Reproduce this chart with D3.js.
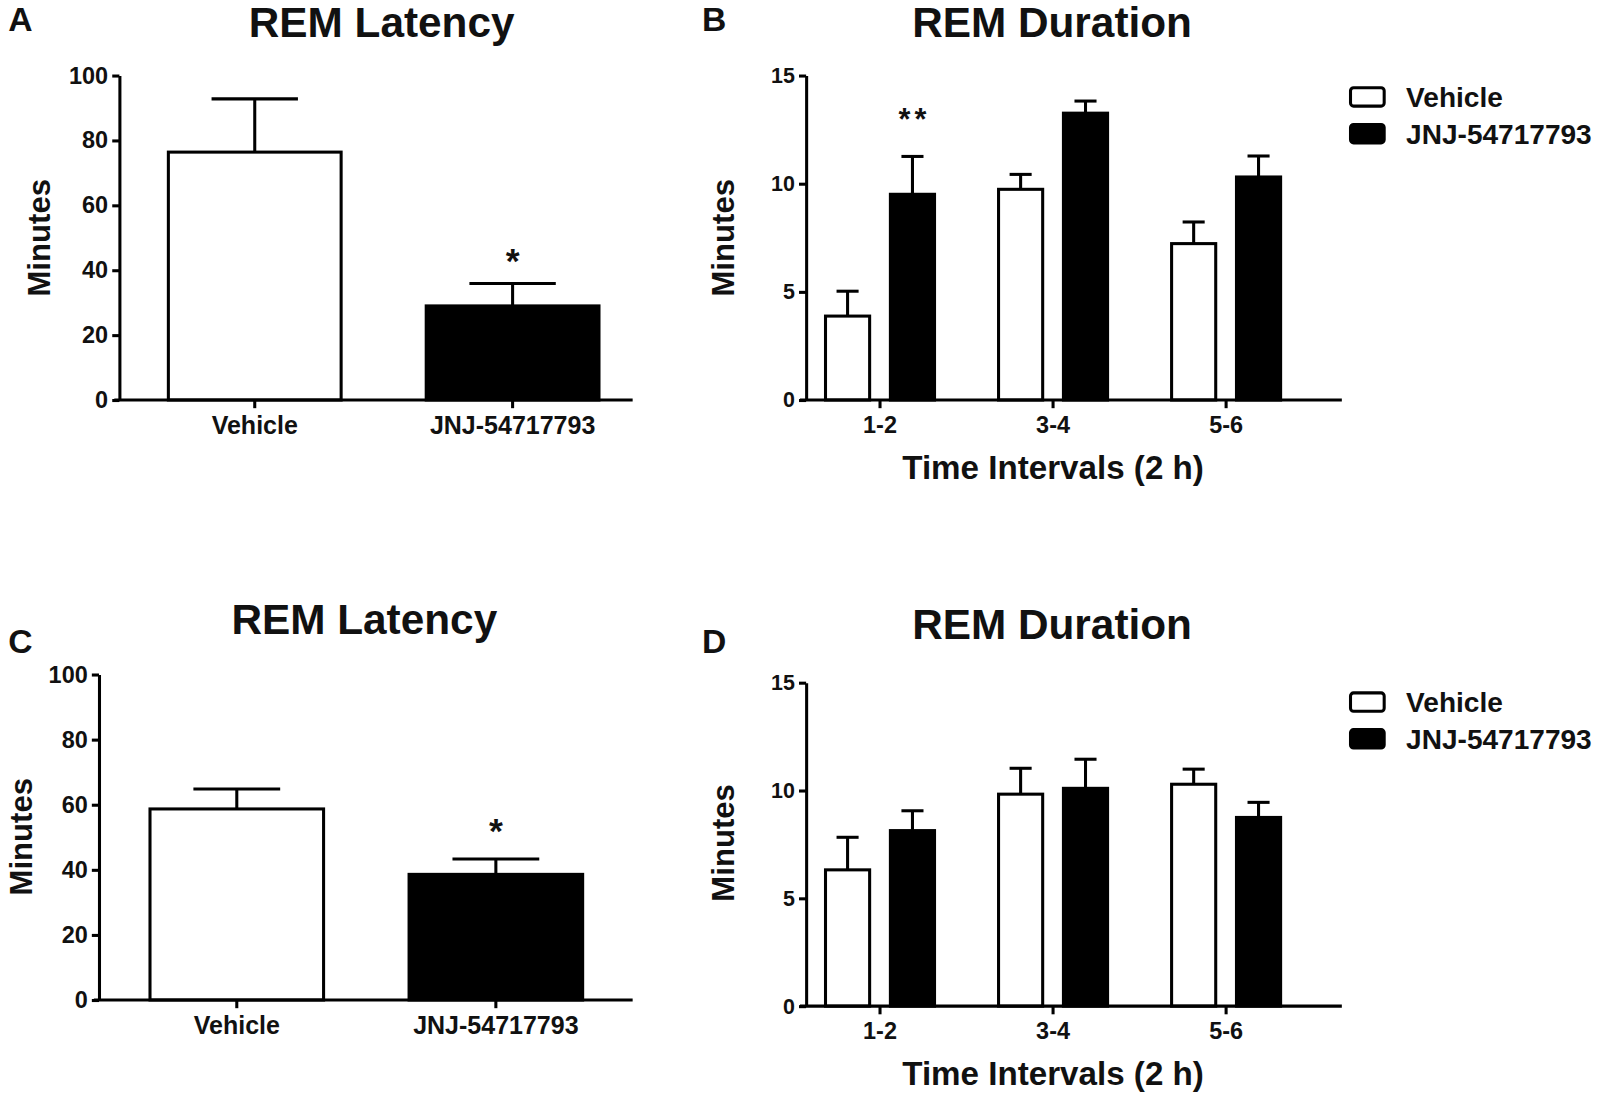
<!DOCTYPE html>
<html>
<head>
<meta charset="utf-8">
<script src="https://cdn.jsdelivr.net/npm/d3@7"></script>
<style>
  body { margin: 0; background: #fff; }
  svg { display: block; }
  text { font-family: "Liberation Sans", Arial, sans-serif; font-weight: bold; fill: #111; }
</style>
</head>
<body>
<script>
// ---------------- data ----------------
const groups = ['Vehicle', 'JNJ-54717793'];
const intervals = ['1-2', '3-4', '5-6'];

// REM latency (minutes), mean and SEM
const latencyA = [76.4, 29.0];
const latencyAErr = [16.4, 6.9];
const latencyC = [58.7, 38.6];
const latencyCErr = [6.1, 4.7];

// REM duration (minutes) per 2 h interval
const durationBVehicle = [3.88, 9.74, 7.23];
const durationBVehicleErr = [1.15, 0.69, 1.0];
const durationBJnj = [9.51, 13.26, 10.31];
const durationBJnjErr = [1.75, 0.56, 0.97];

const durationDVehicle = [6.32, 9.83, 10.29];
const durationDVehicleErr = [1.51, 1.2, 0.7];
const durationDJnj = [8.14, 10.1, 8.75];
const durationDJnjErr = [0.92, 1.35, 0.7];

const latencyTicks = [0, 20, 40, 60, 80, 100];
const durationTicks = [0, 5, 10, 15];

const fills = { Vehicle: '#fff', 'JNJ-54717793': '#000' };

// ---------------- svg ----------------
// layout numbers below are in a 1568-wide frame, scaled up to the 1600 window
const svg = d3.select('body').append('svg')
	.attr('width', 1600).attr('height', 1098)
	.attr('viewBox', [0, 0, 1568, 1076]);
svg.append('rect').attr('width', 1568).attr('height', 1076).attr('fill', '#fff');

function styleText(sel, size) {
	sel.attr('font-size', size).attr('fill', '#111')
		.attr('font-family', '"Liberation Sans", Arial, sans-serif').attr('font-weight', 'bold');
}

function yAxis(g, y, x, ticks, fontSize) {
	const ax = g.append('g')
		.attr('transform', `translate(${x},0)`)
		.call(d3.axisLeft(y).tickValues(ticks).tickSize(7).tickSizeOuter(0).tickPadding(4));
	ax.select('.domain').attr('stroke', '#000').attr('stroke-width', 3);
	ax.selectAll('.tick line').attr('stroke', '#000').attr('stroke-width', 3);
	styleText(ax.selectAll('.tick text'), fontSize);
	return ax;
}

function xAxis(g, x, y0, left, right, fontSize) {
	g.append('line')
		.attr('x1', left).attr('x2', right)
		.attr('y1', y0).attr('y2', y0)
		.attr('stroke', '#000').attr('stroke-width', 3);
	const ax = g.append('g')
		.attr('transform', `translate(0,${y0})`)
		.call(d3.axisBottom(x).tickSize(8).tickSizeOuter(0).tickPadding(8));
	ax.select('.domain').remove();
	ax.selectAll('.tick line').attr('stroke', '#000').attr('stroke-width', 3);
	styleText(ax.selectAll('.tick text'), fontSize);
}

function labels(g, p) {
	g.append('text').attr('x', p.letter[0]).attr('y', p.letter[1]).attr('font-size', 33).text(p.letterText);
	g.append('text').attr('x', p.title[0]).attr('y', p.title[1]).attr('font-size', 41.5)
		.attr('text-anchor', 'middle').text(p.titleText);
	g.append('text')
		.attr('transform', `translate(${p.ylabel[0]},${p.ylabel[1]}) rotate(-90)`)
		.attr('text-anchor', 'middle').attr('dy', '0.36em').attr('font-size', 30.5).text('Minutes');
}

function errorBars(sel, cx, capW, yTop, yBase) {
	sel.append('line')
		.attr('x1', cx).attr('x2', cx)
		.attr('y1', yBase).attr('y2', yTop)
		.attr('stroke', '#000').attr('stroke-width', 3);
	sel.append('line')
		.attr('x1', (d) => cx(d) - capW(d) / 2).attr('x2', (d) => cx(d) + capW(d) / 2)
		.attr('y1', yTop).attr('y2', yTop)
		.attr('stroke', '#000').attr('stroke-width', 3);
}

// ---------------- latency panels (A, C) ----------------
function drawLatency(p) {
	const g = svg.append('g');
	const y = d3.scaleLinear().domain([0, 100]).range([p.yBottom, p.yTop]);
	const x = d3.scaleBand().domain(groups).range(p.barRange).paddingInner(0.33).paddingOuter(0);
	const data = groups.map((k, i) => ({ key: k, v: p.mean[i], e: p.err[i] }));

	const bar = g.selectAll('g.bar').data(data).join('g').attr('class', 'bar');
	errorBars(bar,
		(d) => x(d.key) + x.bandwidth() / 2,
		() => x.bandwidth() / 2,
		(d) => y(d.v + d.e),
		(d) => y(d.v));
	bar.append('rect')
		.attr('x', (d) => x(d.key))
		.attr('y', (d) => y(d.v))
		.attr('width', x.bandwidth())
		.attr('height', (d) => y(0) - y(d.v))
		.attr('fill', (d) => fills[d.key])
		.attr('stroke', '#000').attr('stroke-width', 3);

	g.append('text')
		.attr('x', x(groups[1]) + x.bandwidth() / 2)
		.attr('y', y(data[1].v + data[1].e) - p.starGap)
		.attr('text-anchor', 'middle').attr('font-size', 35).text('*');

	xAxis(g, x, y(0), p.axisX - 5, p.axisEnd, 24.5);
	yAxis(g, y, p.axisX, latencyTicks, 23);
	labels(g, p);
}

// ---------------- duration panels (B, D) ----------------
function drawDuration(p) {
	const g = svg.append('g');
	const y = d3.scaleLinear().domain([0, 15]).range([p.yBottom, p.yTop]);
	const x0 = d3.scaleBand().domain(intervals).range(p.barRange).paddingInner(0.37).paddingOuter(0);
	const x1 = d3.scaleBand().domain(groups).range([0, x0.bandwidth()]).paddingInner(0.32).paddingOuter(0);

	const data = [];
	intervals.forEach((t, i) => {
		data.push({ t, key: groups[0], v: p.vehicle[i], e: p.vehicleErr[i] });
		data.push({ t, key: groups[1], v: p.jnj[i], e: p.jnjErr[i] });
	});

	const bx = (d) => x0(d.t) + x1(d.key);
	const bar = g.selectAll('g.bar').data(data).join('g').attr('class', 'bar');
	errorBars(bar,
		(d) => bx(d) + x1.bandwidth() / 2,
		() => x1.bandwidth() / 2,
		(d) => y(d.v + d.e),
		(d) => y(d.v));
	bar.append('rect')
		.attr('x', bx)
		.attr('y', (d) => y(d.v))
		.attr('width', x1.bandwidth())
		.attr('height', (d) => y(0) - y(d.v))
		.attr('fill', (d) => fills[d.key])
		.attr('stroke', '#000').attr('stroke-width', 3);

	if (p.star) {
		const d = data.find((r) => r.t === p.star && r.key === groups[1]);
		g.append('text')
			.attr('x', bx(d) + x1.bandwidth() / 2 + 2)
			.attr('y', y(d.v + d.e) - p.starGap)
			.attr('text-anchor', 'middle').attr('font-size', 30).attr('letter-spacing', 4).text('**');
	}

	xAxis(g, x0, y(0), p.axisX - 6, p.axisEnd, 23);
	yAxis(g, y, p.axisX, durationTicks, 21);
	labels(g, p);

	g.append('text')
		.attr('x', p.xtitle[0]).attr('y', p.xtitle[1])
		.attr('text-anchor', 'middle').attr('font-size', 32.5).text('Time Intervals (2 h)');

	// legend
	const lg = g.append('g').attr('transform', `translate(${p.legend[0]},${p.legend[1]})`);
	const item = lg.selectAll('g').data(groups).join('g')
		.attr('transform', (d, i) => `translate(0,${i * 36})`);
	item.append('rect')
		.attr('x', 1.5).attr('y', -9).attr('width', 33).attr('height', 18).attr('rx', 3)
		.attr('fill', (d) => fills[d]).attr('stroke', '#000').attr('stroke-width', 3);
	item.append('text').attr('x', 56).attr('dy', '0.36em').attr('font-size', 27.5).text((d) => d);
}

drawLatency({
	mean: latencyA, err: latencyAErr,
	yTop: 74, yBottom: 392, axisX: 117, axisEnd: 620, barRange: [165, 587], starGap: 10,
	letterText: 'A', letter: [8, 30], titleText: 'REM Latency', title: [374, 36.5], ylabel: [38, 233]
});
drawLatency({
	mean: latencyC, err: latencyCErr,
	yTop: 661, yBottom: 980, axisX: 97, axisEnd: 620, barRange: [147, 571], starGap: 16,
	letterText: 'C', letter: [8, 640], titleText: 'REM Latency', title: [357, 621], ylabel: [20, 820]
});
drawDuration({
	vehicle: durationBVehicle, vehicleErr: durationBVehicleErr, jnj: durationBJnj, jnjErr: durationBJnjErr,
	yTop: 74, yBottom: 392, axisX: 790, axisEnd: 1315, barRange: [809, 1255], star: '1-2', starGap: 26,
	letterText: 'B', letter: [688, 30], titleText: 'REM Duration', title: [1031, 36.5], ylabel: [708, 233],
	xtitle: [1032, 469], legend: [1322, 95]
});
drawDuration({
	vehicle: durationDVehicle, vehicleErr: durationDVehicleErr, jnj: durationDJnj, jnjErr: durationDJnjErr,
	yTop: 669, yBottom: 986, axisX: 790, axisEnd: 1315, barRange: [809, 1255], star: null, starGap: 0,
	letterText: 'D', letter: [688, 640], titleText: 'REM Duration', title: [1031, 626], ylabel: [708, 826],
	xtitle: [1032, 1063], legend: [1322, 688]
});
</script>
</body>
</html>
